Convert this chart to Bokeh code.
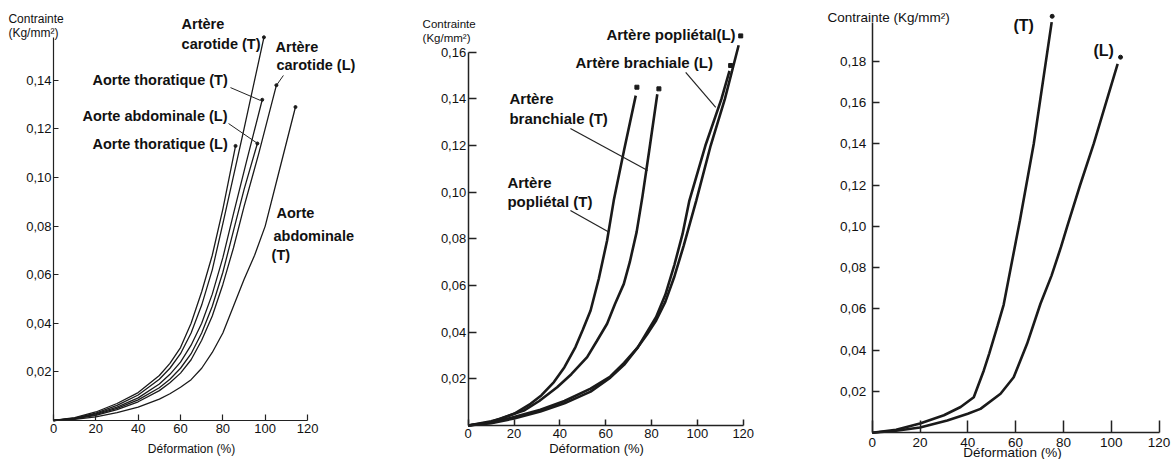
from bokeh.plotting import figure
from bokeh.layouts import row
from bokeh.models import Label, FixedTicker, CustomJSTickFormatter, Range1d
from bokeh.embed import file_html
from bokeh.resources import INLINE

SANS = "Liberation Sans"

# ---------------- ticks ----------------
x_ticks = [0, 20, 40, 60, 80, 100, 120]
y_ticks_1 = [0.02, 0.04, 0.06, 0.08, 0.10, 0.12, 0.14]
y_ticks_2 = [0.02, 0.04, 0.06, 0.08, 0.10, 0.12, 0.14, 0.16]
y_ticks_3 = [0.02, 0.04, 0.06, 0.08, 0.10, 0.12, 0.14, 0.16, 0.18]

# ---------------- data: panel 1 (aortes / carotides) ----------------
thor_L_x = [0, 10, 20, 30, 40, 50, 55, 60, 65, 70, 75, 80, 86]
thor_L_y = [0, 0.0012, 0.0035, 0.007, 0.0115, 0.0185, 0.0235, 0.030, 0.040, 0.053, 0.068, 0.087, 0.113]

carT_x = [0, 10, 20, 30, 40, 50, 55, 60, 65, 70, 75, 80, 90, 99.4]
carT_y = [0, 0.001, 0.003, 0.0062, 0.0105, 0.017, 0.0215, 0.0275, 0.036, 0.0475, 0.062, 0.081, 0.12, 0.1577]

thorT_x = [0, 10, 20, 30, 40, 50, 55, 60, 65, 70, 75, 80, 85, 91, 98.6]
thorT_y = [0, 0.0009, 0.0027, 0.0055, 0.0093, 0.015, 0.019, 0.024, 0.031, 0.040, 0.052, 0.067, 0.085, 0.106, 0.132]

abdL_x = [0, 10, 20, 30, 40, 50, 55, 60, 65, 70, 75, 80, 85, 90, 96.3]
abdL_y = [0, 0.0008, 0.0024, 0.005, 0.0085, 0.0135, 0.017, 0.0215, 0.0275, 0.036, 0.047, 0.061, 0.078, 0.095, 0.114]

carL_x = [0, 10, 20, 30, 40, 50, 55, 60, 65, 70, 75, 80, 85, 90, 97, 105.3]
carL_y = [0, 0.0007, 0.0021, 0.0045, 0.0077, 0.0123, 0.0155, 0.0195, 0.025, 0.033, 0.043, 0.056, 0.071, 0.088, 0.11, 0.138]

abdT_x = [0, 10, 20, 30, 40, 50, 55, 60, 65, 70, 75, 80, 85, 90, 95, 100, 107, 114.3]
abdT_y = [0, 0.0005, 0.0015, 0.0032, 0.0055, 0.0088, 0.011, 0.0137, 0.0168, 0.0215, 0.028, 0.036, 0.047, 0.058, 0.068, 0.080, 0.104, 0.129]

p1_curves = [(thor_L_x, thor_L_y), (carT_x, carT_y), (thorT_x, thorT_y),
             (abdL_x, abdL_y), (carL_x, carL_y), (abdT_x, abdT_y)]

# ---------------- data: panel 2 (brachiale / poplitee) ----------------
popT_x = [0, 10, 14.1, 20, 27.2, 32, 37.4, 42, 46.8, 50, 53.4, 57, 60.6, 63.5, 68, 73.1]
popT_y = [0, 0.0018, 0.0029, 0.005, 0.0093, 0.013, 0.0186, 0.025, 0.0336, 0.041, 0.0493, 0.063, 0.0793, 0.0964, 0.118, 0.1414]

brT_x = [0, 10, 17, 24.3, 31, 38.8, 45, 51.9, 56, 60.6, 64, 67.9, 70.5, 73.5, 76, 79, 82.5]
brT_y = [0, 0.0015, 0.004, 0.0064, 0.0105, 0.0164, 0.022, 0.0293, 0.036, 0.0436, 0.052, 0.0607, 0.070, 0.083, 0.098, 0.118, 0.142]

popL_x = [0, 10, 20, 31.5, 42, 53.4, 62, 68, 74, 78, 82, 86, 90, 94, 99.5, 105.8, 112, 118]
popL_y = [0, 0.0012, 0.0036, 0.0068, 0.0105, 0.0158, 0.021, 0.0268, 0.0335, 0.039, 0.045, 0.053, 0.064, 0.077, 0.0964, 0.12, 0.14, 0.163]

brL_x = [0, 10, 20, 31.5, 42, 53.4, 62, 68, 74, 78, 82, 86, 90, 93.5, 96.5, 103.5, 110.5, 114]
brL_y = [0, 0.001, 0.003, 0.006, 0.0095, 0.0145, 0.0205, 0.026, 0.0335, 0.040, 0.0465, 0.056, 0.069, 0.082, 0.0964, 0.12, 0.14, 0.152]

p2_curves = [(popT_x, popT_y), (brT_x, brT_y), (popL_x, popL_y), (brL_x, brL_y)]
p2_dots_x = [73.6, 83.2, 118.9, 114.5]
p2_dots_y = [0.145, 0.1443, 0.167, 0.1543]

# ---------------- data: panel 3 ((T) / (L)) ----------------
T_x = [0, 10, 20, 30, 37, 42.5, 46.7, 49, 52.5, 55, 58, 61.8, 67.6, 75.1]
T_y = [0, 0.0015, 0.0045, 0.0085, 0.0125, 0.0172, 0.0302, 0.0385, 0.052, 0.062, 0.080, 0.1028, 0.14, 0.1989]

L_x = [0, 10, 20, 31.4, 40, 45.3, 53.7, 59.2, 64.8, 70.4, 75, 79, 81.6, 87, 92.7, 102.7]
L_y = [0, 0.001, 0.0026, 0.006, 0.0092, 0.0116, 0.0189, 0.0269, 0.0431, 0.0625, 0.076, 0.090, 0.10, 0.12, 0.14, 0.1787]

p3_curves = [(T_x, T_y), (L_x, L_y)]
p3_dots_x = [75.3, 103.9]
p3_dots_y = [0.2017, 0.1819]

# ---------------- labels (text, x, y in data units) ----------------
p1_labels = [("Artère", 60.5, 0.163), ("carotide (T)", 60.5, 0.1551),
             ("Artère", 104.9, 0.1535), ("carotide (L)", 105.3, 0.1461),
             ("Aorte thoratique (T)", 18.4, 0.1403), ("Aorte abdominale (L)", 13.7, 0.1255),
             ("Aorte thoratique (L)", 18.4, 0.1136), ("Aorte", 105.3, 0.0852),
             ("abdominale", 103.9, 0.0761), ("(T)", 103.0, 0.0683)]
p1_leaders = [(83.6, 0.137, 97.8, 0.1317), (82.7, 0.1222, 96.4, 0.114), (108.6, 0.142, 105.3, 0.1379)]

p2_labels = [("Artère popliétal(L)", 60.3, 0.1675), ("Artère brachiale (L)", 46.8, 0.1557),
             ("Artère", 18.0, 0.140), ("branchiale (T)", 18.0, 0.1315),
             ("Artère", 17.1, 0.1043), ("popliétal (T)", 17.1, 0.0961)]
p2_leaders = [(94.9, 0.1514, 108.0, 0.1364), (44.6, 0.1273, 78.3, 0.1093), (44.6, 0.0922, 61.3, 0.0829)]

p3_labels = [("(T)", 59.1, 0.1972), ("(L)", 92.6, 0.1851)]

FMT = "return tick.toFixed(2).replace('.', ',');"
H = 459


def make_fig(width, x0_px, sx, y0_px, sy, yticks, ybound, xtick_len, ytick_len, tick_font,
             axis_w, x_standoff, y_standoff):
    # x0_px: pixel offset of x=0 from the figure's left edge; y0_px: pixel offset of y=0 from top
    xs = -x0_px / sx
    ys = -(H - y0_px) / sy
    p = figure(width=width, height=H, output_backend="svg", toolbar_location=None,
               x_range=Range1d(xs, xs + width / sx), y_range=Range1d(ys, ys + H / sy),
               min_border=0)
    p.outline_line_color = None
    p.xgrid.visible = False
    p.ygrid.visible = False
    p.background_fill_color = "white"
    p.border_fill_color = "white"
    p.xaxis.ticker = FixedTicker(ticks=x_ticks)
    p.xaxis.bounds = (0, 120)
    p.xaxis.fixed_location = 0
    p.yaxis.ticker = FixedTicker(ticks=yticks)
    p.yaxis.bounds = (0, ybound)
    p.yaxis.fixed_location = 0
    p.yaxis.formatter = CustomJSTickFormatter(code=FMT)
    for ax, tl in ((p.xaxis, xtick_len), (p.yaxis, ytick_len)):
        ax.major_tick_in = tl
        ax.major_tick_out = 0
        ax.minor_tick_in = 0
        ax.minor_tick_out = 0
        ax.axis_line_color = "#222222"
        ax.axis_line_width = axis_w
        ax.major_tick_line_color = "#222222"
        ax.major_tick_line_width = axis_w
        ax.major_label_text_font = SANS
        ax.major_label_text_font_size = tick_font
        ax.major_label_text_color = "#111111"
    p.xaxis.major_label_standoff = x_standoff
    p.yaxis.major_label_standoff = y_standoff
    return p


def add_text(p, txt, x, y, size, bold=False, align="left"):
    p.add_layout(Label(x=x, y=y, text=txt, text_font=SANS, text_font_size=size,
                       text_font_style="bold" if bold else "normal",
                       text_baseline="middle", text_align=align, text_color="#111111"))


# ---------- panel 1 ----------
p1 = make_fig(390, 53, 2.117, 420, 2430, y_ticks_1, 0.1576, 6, 5, "13px", 1.2, 3, 2)
for cx, cy in p1_curves:
    p1.line(cx, cy, line_color="#1a1a1a", line_width=1.3)
p1.scatter([c[0][-1] for c in p1_curves], [c[1][-1] for c in p1_curves], size=3,
           color="#1a1a1a")
p1.segment([s[0] for s in p1_leaders], [s[1] for s in p1_leaders],
           [s[2] for s in p1_leaders], [s[3] for s in p1_leaders], line_color="#222222", line_width=1)
for t, x, y in p1_labels:
    add_text(p1, t, x, y, "14.5px", bold=True)
add_text(p1, "Contrainte", -21.3, 0.1654, "12px")
add_text(p1, "(Kg/mm²)", -21.3, 0.1593, "12px")
add_text(p1, "Déformation (%)", 65.2, -0.0119, "12px", align="center")

# ---------- panel 2 ----------
p2 = make_fig(390, 77.7, 2.292, 425, 2333, y_ticks_2, 0.16, 6, 8, "13px", 1.5, 3, 2)
for cx, cy in p2_curves:
    p2.line(cx, cy, line_color="#1a1a1a", line_width=2.6)
p2.scatter(p2_dots_x, p2_dots_y, marker="square", size=4, color="#1a1a1a")
p2.segment([s[0] for s in p2_leaders], [s[1] for s in p2_leaders],
           [s[2] for s in p2_leaders], [s[3] for s in p2_leaders], line_color="#222222", line_width=1.2)
for t, x, y in p2_labels:
    add_text(p2, t, x, y, "15px", bold=True)
add_text(p2, "Contrainte", -19.9, 0.1719, "11.5px")
add_text(p2, "(Kg/mm²)", -19.9, 0.1659, "11.5px")
add_text(p2, "Déformation (%)", 56.0, -0.0099, "13px", align="center")

# ---------- panel 3 ----------
p3 = make_fig(393, 91.7, 2.39, 432.3, 2065, y_ticks_3, 0.1988, 12, 7, "13.5px", 1.5, 5, 6)
for cx, cy in p3_curves:
    p3.line(cx, cy, line_color="#1a1a1a", line_width=2.6)
p3.scatter(p3_dots_x, p3_dots_y, size=4, color="#1a1a1a")
for t, x, y in p3_labels:
    add_text(p3, t, x, y, "16px", bold=True)
add_text(p3, "Contrainte (Kg/mm²)", -18.7, 0.201, "13.5px")
add_text(p3, "Déformation (%)", 58.7, -0.0094, "13.5px", align="center")

layout = row(p1, p2, p3)
open("out.html", "w").write(file_html(layout, INLINE))
